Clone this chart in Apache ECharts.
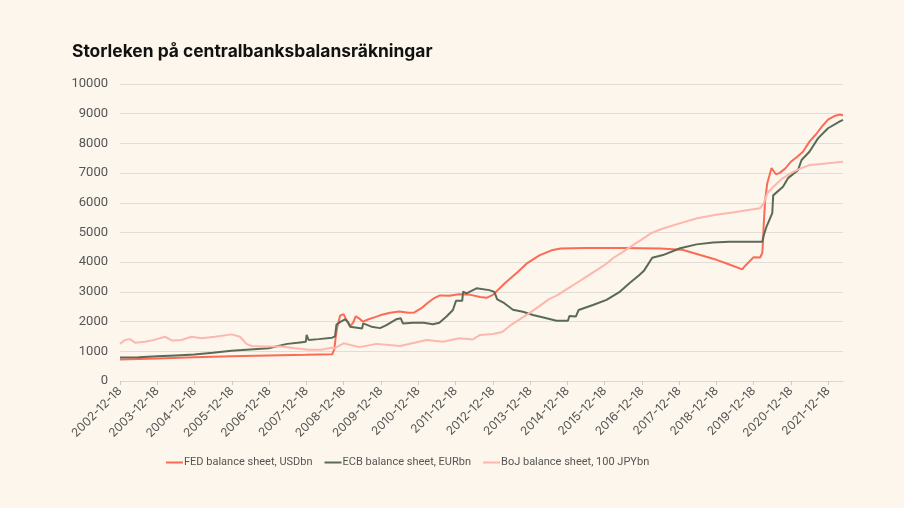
<!DOCTYPE html>
<html>
<head>
<meta charset="utf-8">
<script src="https://cdn.jsdelivr.net/npm/echarts@6/dist/echarts.min.js"></script>
<style>
html,body{margin:0;padding:0;background:#fcf6ec;}
#chart{width:904px;height:508px;}
</style>
</head>
<body>
<div id="chart"></div>
<script>
const titleText = 'Storleken på centralbanksbalansräkningar';
const seriesNames = ['FED balance sheet, USDbn', 'ECB balance sheet, EURbn', 'BoJ balance sheet, 100 JPYbn'];
const tickLabels = ['2002-12-18','2003-12-18','2004-12-18','2005-12-18','2006-12-18','2007-12-18','2008-12-18','2009-12-18','2010-12-18','2011-12-18','2012-12-18','2013-12-18','2014-12-18','2015-12-18','2016-12-18','2017-12-18','2018-12-18','2019-12-18','2020-12-18','2021-12-18'];
const xMin = '2002-12-18';
const xMax = '2022-05-11';

const fedDates = ['2002-12-18','2003-12-17','2004-12-15','2005-12-14','2006-12-13','2007-12-12','2008-08-27','2008-09-17','2008-10-01','2008-10-15','2008-11-12','2008-12-17','2009-01-14','2009-02-18','2009-03-18','2009-04-15','2009-05-20','2009-06-24','2009-08-19','2009-10-21','2009-12-16','2010-03-17','2010-06-16','2010-09-15','2010-11-10','2011-01-19','2011-03-16','2011-05-18','2011-07-20','2011-10-19','2012-01-18','2012-05-16','2012-08-15','2012-10-17','2012-12-19','2013-04-17','2013-08-14','2013-11-13','2014-03-19','2014-07-16','2014-10-15','2015-06-17','2016-06-15','2017-06-14','2017-10-18','2018-01-17','2018-12-19','2019-04-17','2019-08-28','2019-09-18','2019-10-16','2019-12-18','2020-02-19','2020-03-11','2020-03-18','2020-03-25','2020-04-08','2020-04-29','2020-06-10','2020-07-22','2020-08-26','2020-10-21','2020-12-16','2021-02-17','2021-04-14','2021-06-16','2021-08-18','2021-10-20','2021-12-15','2022-02-16','2022-04-13','2022-05-11'];
const fedValues = [720,760,800,830,860,880,900,1070,1490,1800,2200,2250,2050,1850,1950,2180,2100,2000,2080,2150,2220,2300,2340,2300,2310,2450,2620,2780,2880,2870,2920,2900,2830,2800,2900,3300,3650,3950,4230,4400,4460,4480,4480,4460,4440,4420,4080,3930,3760,3850,3950,4170,4160,4310,4670,5250,6080,6660,7170,6960,7000,7150,7380,7550,7720,8060,8300,8580,8800,8920,8970,8940];

const ecbDates = ['2002-12-18','2003-06-18','2003-12-17','2004-06-16','2004-12-15','2005-06-15','2005-12-14','2006-06-14','2006-12-13','2007-06-13','2007-10-17','2007-12-12','2007-12-21','2008-01-09','2008-04-16','2008-08-27','2008-09-24','2008-10-08','2008-11-19','2008-12-31','2009-01-28','2009-02-18','2009-06-17','2009-06-26','2009-09-16','2009-12-09','2010-02-10','2010-05-19','2010-06-30','2010-07-21','2010-10-27','2011-02-09','2011-05-11','2011-07-13','2011-09-21','2011-11-23','2011-12-23','2012-02-22','2012-03-02','2012-04-04','2012-07-11','2012-11-14','2013-01-02','2013-01-30','2013-04-10','2013-07-03','2013-10-09','2014-01-15','2014-05-28','2014-09-03','2014-12-24','2015-01-07','2015-03-11','2015-04-08','2015-08-26','2016-01-06','2016-05-18','2016-08-17','2016-11-23','2017-01-04','2017-03-29','2017-07-12','2017-12-27','2018-06-06','2018-11-14','2019-04-24','2019-10-09','2020-03-11','2020-03-25','2020-04-22','2020-06-17','2020-06-26','2020-09-30','2020-11-18','2021-02-24','2021-03-31','2021-06-16','2021-09-08','2021-12-15','2022-04-06','2022-05-11'];
const ecbValues = [790,800,830,860,890,950,1020,1060,1100,1250,1300,1320,1550,1380,1410,1460,1500,1900,2000,2075,1990,1830,1770,1940,1830,1780,1880,2080,2110,1940,1960,1960,1910,1960,2170,2390,2700,2700,3010,2950,3120,3060,3000,2750,2620,2400,2330,2220,2110,2030,2030,2190,2170,2390,2560,2730,3010,3290,3570,3700,4150,4240,4470,4600,4660,4690,4690,4690,4900,5200,5650,6250,6540,6830,7100,7440,7720,8170,8510,8730,8790];

const bojDates = ['2002-12-18','2003-02-05','2003-03-26','2003-05-14','2003-08-20','2003-10-22','2004-03-03','2004-05-12','2004-08-11','2004-11-17','2005-02-23','2005-07-06','2005-12-14','2006-03-08','2006-05-10','2006-06-28','2006-11-08','2007-04-18','2007-08-29','2008-01-09','2008-05-14','2008-08-20','2008-09-17','2008-12-17','2009-05-20','2009-11-04','2010-06-23','2011-03-09','2011-08-17','2012-01-25','2012-06-06','2012-08-15','2012-12-19','2013-03-20','2013-06-19','2013-09-18','2013-12-18','2014-03-19','2014-06-18','2014-09-17','2014-12-17','2015-03-18','2015-06-17','2015-09-16','2015-12-16','2016-03-16','2016-06-15','2016-09-14','2016-12-14','2017-03-15','2017-06-14','2017-12-13','2018-06-13','2018-12-12','2019-06-12','2019-12-11','2020-02-19','2020-03-25','2020-04-29','2020-06-17','2020-09-16','2020-12-16','2021-03-17','2021-06-16','2021-09-15','2021-12-15','2022-05-11'];
const bojValues = [1250,1380,1410,1290,1320,1360,1490,1360,1380,1490,1440,1490,1570,1490,1250,1180,1160,1160,1100,1050,1050,1120,1100,1270,1140,1250,1180,1380,1320,1440,1400,1550,1580,1650,1900,2100,2300,2520,2750,2900,3100,3300,3500,3700,3900,4150,4350,4560,4760,4970,5100,5300,5480,5600,5680,5780,5820,5980,6320,6500,6800,7000,7150,7270,7300,7330,7380];

function toTs(s){const p=s.split('-').map(Number);return Date.UTC(p[0],p[1]-1,p[2]);}
function pairs(d,v){return d.map((x,i)=>[toTs(x),v[i]]);}
const tickTs = tickLabels.map(toTs);
function labelFor(v){
  let best=0, bd=Infinity;
  tickTs.forEach((t,i)=>{const d=Math.abs(t-v); if(d<bd){bd=d;best=i;}});
  return bd < 86400000*2 ? tickLabels[best] : '';
}

const colors = ['#fb6b57', '#5b6a55', '#fdb7ae'];

const chart = echarts.init(document.getElementById('chart'), null, {renderer:'canvas'});
chart.setOption({
  backgroundColor: '#fcf6ec',
  animation: false,
  color: colors,
  textStyle: {fontFamily: 'Inter, "Noto Sans", sans-serif'},
  title: {
    text: titleText, left: 67, top: 38,
    textStyle: {fontSize: 17.4, fontWeight: 'bold', color: '#111', fontFamily: 'Inter'}
  },
  grid: {left: 120, right: 61, top: 84, bottom: 127, containLabel: false},
  legend: {
    left: 161, top: 452, itemWidth: 17, itemHeight: 2, itemGap: 12,
    icon: 'rect',
    textStyle: {fontSize: 11, color: '#555', fontFamily: 'Roboto', padding: [0,0,0,-4]},
    data: seriesNames
  },
  xAxis: {
    type: 'value', min: toTs(xMin), max: toTs(xMax),
    axisLine: {show: true, lineStyle: {color: '#dcd8d1', width: 1}},
    axisTick: {show: true, length: 4, lineStyle: {color: '#cfcac2'}, customValues: tickTs},
    splitLine: {show: false},
    axisLabel: {
      customValues: tickTs, rotate: 45, fontSize: 12, color: '#555', margin: 8,
      formatter: function(v){return labelFor(v);}
    }
  },
  yAxis: {
    type: 'value', min: 0, max: 10000, interval: 1000,
    axisLine: {show: false}, axisTick: {show: false},
    splitLine: {lineStyle: {color: '#e2ded7', width: 1}},
    axisLabel: {fontSize: 13, color: '#555', margin: 12, fontFamily: 'Roboto', formatter: function(v){return String(v);}}
  },
  series: [
    {name: seriesNames[0], type: 'line', showSymbol: false, data: pairs(fedDates, fedValues), lineStyle: {width: 2, color: colors[0]}, itemStyle:{color: colors[0]}},
    {name: seriesNames[1], type: 'line', showSymbol: false, data: pairs(ecbDates, ecbValues), lineStyle: {width: 2, color: colors[1]}, itemStyle:{color: colors[1]}},
    {name: seriesNames[2], type: 'line', showSymbol: false, data: pairs(bojDates, bojValues), lineStyle: {width: 2, color: colors[2]}, itemStyle:{color: colors[2]}}
  ]
});
</script>
</body>
</html>
